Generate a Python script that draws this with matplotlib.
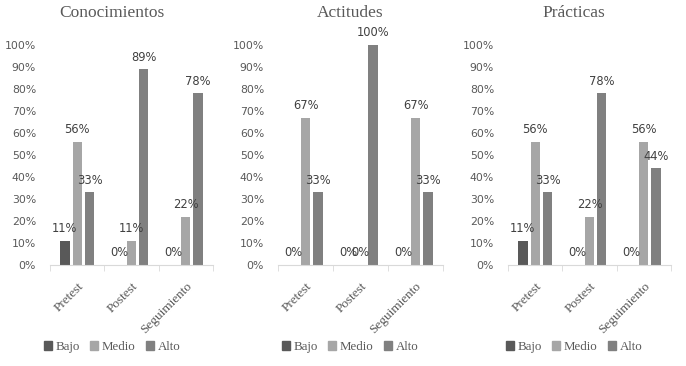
import matplotlib

matplotlib.use("Agg")
import matplotlib.pyplot as plt
import numpy as np
from matplotlib.patches import Patch

titles = ["Conocimientos", "Actitudes", "Prácticas"]
categories = ["Pretest", "Postest", "Seguimiento"]
levels = ["Bajo", "Medio", "Alto"]

# percentages per panel, rows = level (Bajo, Medio, Alto), cols = category
conocimientos = [[11, 0, 0], [56, 11, 22], [33, 89, 78]]
actitudes = [[0, 0, 0], [67, 0, 67], [33, 100, 33]]
practicas = [[11, 0, 0], [56, 22, 56], [33, 78, 44]]
panels = [conocimientos, actitudes, practicas]

colors = ["#595959", "#a6a6a6", "#808080"]
serif = ["Liberation Serif", "DejaVu Serif"]
sans = ["DejaVu Sans"]

W, H = 686, 366
fig = plt.figure(figsize=(W / 100, H / 100), dpi=100)

# axes in pixel coords: (left, right), chart-area centre for title/legend
ax_px = [(50, 213, 112), (278, 443, 350), (508, 671, 574)]
y0, y100 = 265, 45

for k, (title, data) in enumerate(zip(titles, panels)):
    l, r, cx = ax_px[k]
    ax = fig.add_axes([l / W, 1 - y0 / H, (r - l) / W, (y0 - y100) / H])
    x = np.arange(len(categories))
    for i, lvl in enumerate(levels):
        pos = x + (i - 1) * 0.225
        ax.bar(pos, data[i], width=0.17, color=colors[i], label=lvl)
        for p, v in zip(pos, data[i]):
            ax.text(p, v + 2.5, f"{v}%", ha="center", va="bottom",
                    fontsize=8.3, color="#404040", family=sans, clip_on=False)
    ax.set_xlim(-0.5, 2.5)
    ax.set_ylim(0, 100)
    ax.set_yticks(range(0, 101, 10))
    ax.set_yticklabels([f"{t}%" for t in range(0, 101, 10)], fontsize=7.8,
                       color="#595959", family=sans)
    ax.tick_params(axis="y", length=0, pad=10)
    ax.set_xticks(x)
    ax.set_xticklabels(categories, rotation=45, ha="right", rotation_mode="anchor",
                       fontsize=9.5, color="#595959", family=serif)
    ax.set_xticks([-0.5, 0.5, 1.5, 2.5], minor=True)
    ax.tick_params(axis="x", which="major", length=0, pad=11)
    ax.tick_params(axis="x", which="minor", length=4, color="#d9d9d9", direction="out")
    for s in ["top", "right", "left"]:
        ax.spines[s].set_visible(False)
    ax.spines["bottom"].set_color("#d9d9d9")

    fig.text(cx / W, 1 - 13 / H, title, ha="center", va="center",
             fontsize=12.5, color="#595959", family=serif)
    handles = [Patch(color=c, label=lvl) for c, lvl in zip(colors, levels)]
    fig.legend(handles=handles, loc="center", bbox_to_anchor=(cx / W, 1 - 347 / H),
               ncol=3, frameon=False, handlelength=0.6, handleheight=0.6,
               handletextpad=0.3, columnspacing=0.8,
               prop={"family": serif, "size": 9.3})
    for t in fig.legends[-1].get_texts():
        t.set_color("#595959")

fig.savefig("out.png", dpi=100)
